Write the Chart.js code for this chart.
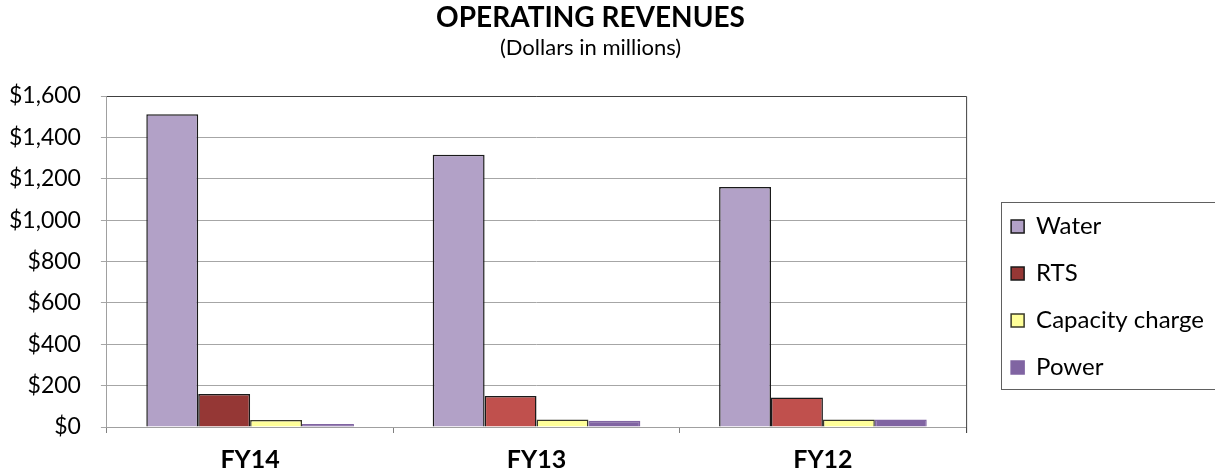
<!DOCTYPE html>
<html>
<head>
<meta charset="utf-8">
<script src="https://cdn.jsdelivr.net/npm/chart.js@4/dist/chart.umd.min.js"></script>
<style>
  html, body { margin: 0; padding: 0; background: #fff; }
  #wrap { width: 1215px; height: 472px; }
</style>
</head>
<body>
<div id="wrap"><canvas id="chart"></canvas></div>
<script>
const categories = ["FY14", "FY13", "FY12"]
const water = [1512, 1316, 1160]
const rts = [160, 150, 143]
const capacity = [34, 36, 36]
const power = [15, 30, 36]
const yTicks = [0, 200, 400, 600, 800, 1000, 1200, 1400, 1600]

const FONT = "Lato, 'Open Sans', sans-serif"

// nudge the legend right/down so it sits where the reference has it
const legendShift = {
  id: "legendShift",
  afterLayout(chart) {
    const lg = chart.legend
    if (!lg) return
    lg.left += 22; lg.right += 22
    lg.top += 54; lg.bottom += 54
  }
}

// plot frame: dark line on top and right, and a box round the legend
const framePlugin = {
  id: "frame",
  afterDraw(chart) {
    const { ctx, chartArea: a, legend } = chart
    ctx.save()
    ctx.strokeStyle = "#404040"
    ctx.lineWidth = 1
    ctx.beginPath()
    ctx.moveTo(a.left, a.top + 0.5)
    ctx.lineTo(a.right + 0.5, a.top + 0.5)
    ctx.lineTo(a.right + 0.5, a.bottom + 6)
    ctx.stroke()
    const mid = (legend.top + legend.bottom) / 2
    ctx.strokeStyle = "#606060"
    ctx.strokeRect(Math.round(legend.left + 13) + 0.5, Math.round(mid - 95) + 0.5, 260, 187)
    ctx.restore()
  }
}

const ds = (label, data, color, border) => ({
  label, data,
  backgroundColor: color,
  borderColor: border,
  borderWidth: 1.5,
  borderSkipped: "bottom"
})

new Chart(document.getElementById("chart"), {
  type: "bar",
  data: {
    labels: categories,
    datasets: [
      ds("Water", water, "#B2A1C7", "#1a1a1a"),
      ds("RTS", rts, ["#953735", "#C0504D", "#C0504D"], "#1a1a1a"),
      ds("Capacity charge", capacity, "#FFFF99", "#3a3a2a"),
      ds("Power", power, "#8064A2", "#8064A2")
    ]
  },
  options: {
    responsive: true,
    maintainAspectRatio: false,
    animation: false,
    datasets: { bar: { barPercentage: 1, categoryPercentage: 0.725 } },
    layout: { padding: { left: -11, right: 23, top: 0, bottom: -14 } },
    plugins: {
      title: {
        display: true,
        text: "OPERATING REVENUES",
        color: "#000",
        font: { family: FONT, size: 28, weight: "bold", lineHeight: 1.1 },
        padding: { top: 3, bottom: 0 }
      },
      subtitle: {
        display: true,
        text: "(Dollars in millions)",
        color: "#000",
        font: { family: FONT, size: 22, lineHeight: 1.1 },
        padding: { top: 2, bottom: 36 }
      },
      legend: {
        position: "right",
        align: "center",
        labels: {
          color: "#000",
          font: { family: FONT, size: 24 },
          boxWidth: 13,
          boxHeight: 13,
          padding: 23
        }
      },
      tooltip: { enabled: false }
    },
    scales: {
      x: {
        grid: { display: true, drawOnChartArea: false, drawTicks: true, tickLength: 6, color: "#808080", offset: true },
        border: { color: "#a0a0a0" },
        ticks: { color: "#000", font: { family: FONT, size: 25, weight: "bold", lineHeight: 1 }, padding: 14 }
      },
      y: {
        min: 0,
        max: 1600,
        afterBuildTicks(axis) { axis.ticks = yTicks.map(v => ({ value: v })) },
        grid: { color: "#a6a6a6", tickLength: 6 },
        border: { color: "#a0a0a0" },
        ticks: {
          color: "#000",
          font: { family: FONT, size: 23 },
          padding: 20,
          callback: v => "$" + v.toLocaleString("en-US")
        }
      }
    }
  },
  plugins: [legendShift, framePlugin]
})
</script>
</body>
</html>
